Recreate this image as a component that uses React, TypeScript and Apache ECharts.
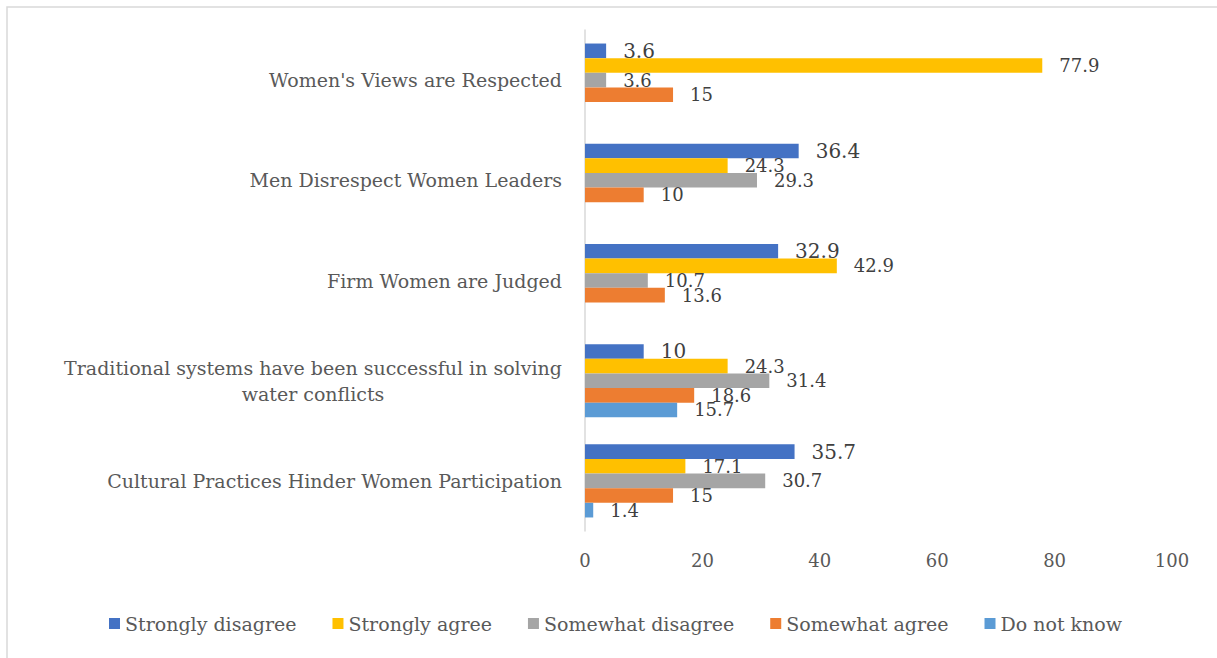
import React, { useEffect, useRef } from "react";
import * as echarts from "echarts";

const categories = [
  "Women's Views are Respected",
  "Men Disrespect Women Leaders",
  "Firm Women are Judged",
  "Traditional systems have been successful in solving\nwater conflicts",
  "Cultural Practices Hinder Women Participation",
];
const seriesNames = [
  "Strongly disagree",
  "Strongly agree",
  "Somewhat disagree",
  "Somewhat agree",
  "Do not know",
];
const stronglyDisagree = [3.6, 36.4, 32.9, 10, 35.7];
const stronglyAgree = [77.9, 24.3, 42.9, 24.3, 17.1];
const somewhatDisagree = [3.6, 29.3, 10.7, 31.4, 30.7];
const somewhatAgree = [15, 10, 13.6, 18.6, 15];
const doNotKnow: (number | null)[] = [null, null, null, 15.7, 1.4];
const xTicks = [0, 20, 40, 60, 80, 100];

const colors = ["#4472C4", "#FFC000", "#A5A5A5", "#ED7D31", "#5B9BD5"];
const FONT = "DejaVu Serif";

export default function App() {
  const ref = useRef<HTMLDivElement>(null);
  useEffect(() => {
    if (!ref.current) return;
    const chart = echarts.init(ref.current, null, { renderer: "svg" });
    const values = [stronglyDisagree, stronglyAgree, somewhatDisagree, somewhatAgree, doNotKnow];
    const series = seriesNames.map((name, i) => ({
      name,
      type: "bar",
      data: values[i],
      barGap: "0%",
      barCategoryGap: "27%",
      itemStyle: { color: colors[i] },
      label: {
        show: true,
        position: "right",
        distance: 17,
        fontFamily: FONT,
        fontSize: i === 0 ? 20 : 18,
        color: "#404040",
      },
    }));
    chart.setOption({
      animation: false,
      color: colors,
      textStyle: { fontFamily: FONT },
      graphic: [
        {
          type: "rect",
          shape: { x: 7, y: 7, width: 1240, height: 700 },
          style: { fill: "none", stroke: "#d9d9d9", lineWidth: 1.5 },
          silent: true,
        },
      ],
      grid: { left: 585, right: 45, top: 30, bottom: 127, containLabel: false },
      legend: {
        data: seriesNames,
        left: 104,
        top: 609,
        itemWidth: 11,
        itemHeight: 11,
        itemGap: 36,
        icon: "rect",
        textStyle: { fontFamily: FONT, fontSize: 19, color: "#595959" },
      },
      xAxis: {
        type: "value",
        min: 0,
        max: 100,
        interval: 20,
        axisLine: { show: false },
        axisTick: { show: false },
        splitLine: { show: false },
        axisLabel: {
          fontFamily: FONT,
          fontSize: 18,
          color: "#595959",
          margin: 20,
          formatter: (v: number) => (xTicks.includes(v) ? String(v) : ""),
        },
      },
      yAxis: {
        type: "category",
        inverse: true,
        data: categories,
        axisLine: { show: true, lineStyle: { color: "#d9d9d9", width: 1.5 } },
        axisTick: { show: false },
        axisLabel: {
          margin: 23,
          fontFamily: FONT,
          fontSize: 19,
          color: "#595959",
          formatter: (v: string) => {
            if (v.includes("\n")) {
              return v
                .split("\n")
                .map((l) => `{c|${l}}`)
                .join("\n");
            }
            return v;
          },
          rich: {
            c: {
              width: 498,
              align: "center",
              fontFamily: FONT,
              fontSize: 19,
              color: "#595959",
              lineHeight: 26,
            },
          },
        },
      },
      series,
    });
    return () => chart.dispose();
  }, []);
  return (
    <div
      ref={ref}
      style={{ position: "absolute", left: 0, top: 0, width: 1217, height: 658, background: "#fff" }}
    />
  );
}
